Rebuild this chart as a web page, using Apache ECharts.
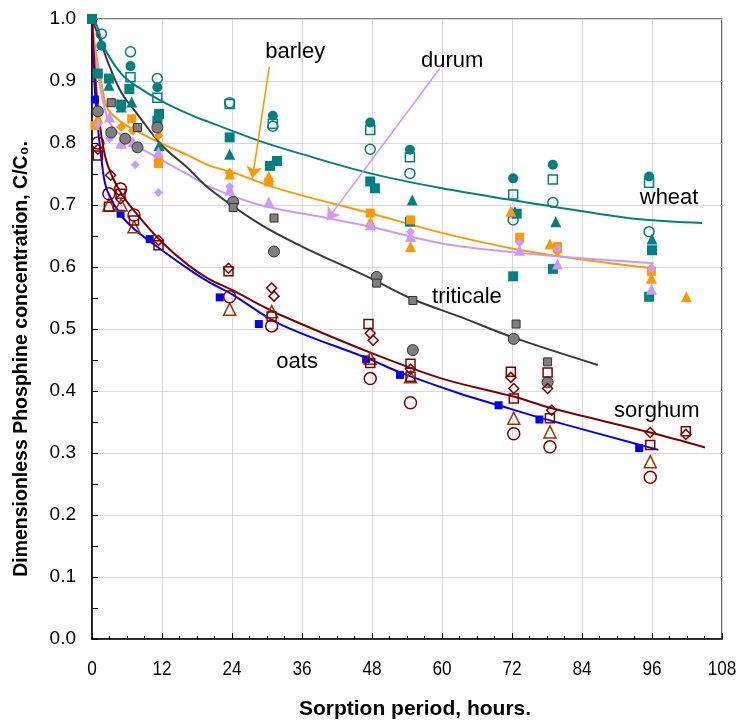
<!DOCTYPE html>
<html>
<head>
<meta charset="utf-8">
<script src="https://cdn.jsdelivr.net/npm/echarts@6/dist/echarts.min.js"></script>
<style>
  html, body { margin: 0; padding: 0; background: #fff; }
  #chart { width: 741px; height: 722px; }
</style>
</head>
<body>
<div id="chart"></div>
<script>
// Axis ticks
const xTicks = [0, 12, 24, 36, 48, 60, 72, 84, 96, 108];
const yTicks = [0, 0.1, 0.2, 0.3, 0.4, 0.5, 0.6, 0.7, 0.8, 0.9, 1.0];

// ---- Measured points [hours, C/C0] ----
// wheat
const wheatCircle = [[0, 1.0], [1.6, 0.957], [6.6, 0.924], [11.2, 0.890], [31.0, 0.844], [47.7, 0.833], [54.5, 0.789], [72.2, 0.743], [79.0, 0.765], [95.5, 0.746]];
const wheatOpenCircle = [[1.6, 0.976], [6.6, 0.947], [11.2, 0.904], [23.6, 0.865], [31.0, 0.827], [47.7, 0.790], [54.5, 0.751], [72.2, 0.676], [79.0, 0.704], [95.5, 0.657]];
const wheatOpenSquare = [[6.6, 0.906], [11.2, 0.873], [23.6, 0.863], [31.0, 0.831], [47.7, 0.821], [54.5, 0.777], [72.2, 0.717], [79.0, 0.741], [95.5, 0.736]];
const wheatTriangle = [[2.9, 0.893], [5.0, 0.858], [6.8, 0.866], [11.5, 0.796], [23.6, 0.782], [54.9, 0.708], [72.5, 0.689], [79.5, 0.673], [96.0, 0.645]];
const wheatSquare = [[0, 1.0], [1.0, 0.912], [2.9, 0.904], [6.4, 0.887], [11.5, 0.847], [23.6, 0.809], [30.5, 0.763], [47.7, 0.738], [54.5, 0.673], [72.2, 0.585], [79.0, 0.597], [95.5, 0.552]];
const wheatSquareB = [[5.0, 0.862], [11.2, 0.836], [31.7, 0.771], [48.5, 0.727], [72.8, 0.686], [96.0, 0.627]];

// barley
const barleyTriangle = [[1.0, 0.840], [5.0, 0.800], [11.4, 0.780], [23.6, 0.750], [30.3, 0.746], [47.7, 0.673], [54.6, 0.633], [71.8, 0.690], [78.5, 0.637], [95.9, 0.582], [101.9, 0.552]];
const barleySquare = [[0.5, 0.828], [6.8, 0.839], [11.4, 0.767], [30.3, 0.737], [47.7, 0.687], [54.6, 0.676], [73.3, 0.648], [79.8, 0.633], [95.9, 0.593]];
const barleyDiamond = [[5.0, 0.826], [7.0, 0.820], [11.4, 0.812], [23.6, 0.752], [73.3, 0.642], [79.8, 0.625], [95.9, 0.598]];

// durum
const durumDiamond = [[1.0, 0.830], [3.0, 0.807], [7.4, 0.765], [11.4, 0.720], [23.6, 0.730], [54.6, 0.657], [73.3, 0.639], [79.8, 0.630], [95.9, 0.597]];
const durumTriangle = [[3.0, 0.842], [5.0, 0.800], [7.0, 0.802], [11.4, 0.785], [23.6, 0.724], [30.3, 0.705], [47.7, 0.668], [54.6, 0.649], [73.3, 0.627], [79.8, 0.605], [95.9, 0.564]];

// triticale
const triticaleCircle = [[1.0, 0.851], [3.3, 0.817], [5.7, 0.807], [7.8, 0.793], [11.2, 0.825], [24.2, 0.705], [31.2, 0.625], [48.8, 0.584], [55.0, 0.466], [72.3, 0.484], [78.1, 0.414]];
const triticaleSquare = [[3.3, 0.865], [7.8, 0.825], [24.2, 0.696], [31.2, 0.679], [48.8, 0.574], [55.0, 0.546], [72.7, 0.508], [78.1, 0.447]];

// oats
const oatsSquare = [[0.5, 0.870], [4.9, 0.686], [9.9, 0.645], [21.9, 0.551], [28.6, 0.508], [47.0, 0.451], [52.8, 0.426], [69.7, 0.377], [76.7, 0.354], [93.8, 0.308]];

// sorghum
const sorghumCircle = [[1.0, 0.800], [2.9, 0.718], [4.9, 0.726], [7.2, 0.684], [23.6, 0.552], [30.8, 0.505], [47.7, 0.420], [54.6, 0.381], [72.3, 0.331], [78.5, 0.310], [95.7, 0.261]];
const sorghumSquare = [[1.0, 0.780], [2.9, 0.697], [4.9, 0.718], [7.2, 0.675], [11.4, 0.635], [23.4, 0.593], [30.8, 0.520], [47.4, 0.508], [47.7, 0.445], [54.6, 0.444], [54.6, 0.423], [71.8, 0.431], [72.3, 0.388], [78.1, 0.430], [78.5, 0.356], [95.7, 0.313], [101.8, 0.335]];
const sorghumDiamond = [[1.0, 0.790], [3.2, 0.748], [4.9, 0.710], [11.4, 0.643], [23.4, 0.598], [30.8, 0.566], [31.2, 0.553], [47.7, 0.493], [48.2, 0.482], [54.6, 0.435], [71.8, 0.422], [72.3, 0.404], [78.1, 0.404], [78.8, 0.369], [95.7, 0.333], [101.8, 0.330]];
const sorghumTriangle = [[2.9, 0.700], [5.0, 0.700], [7.2, 0.665], [23.6, 0.532], [30.8, 0.528], [47.7, 0.453], [54.6, 0.423], [72.3, 0.356], [78.5, 0.334], [95.7, 0.286]];

// ---- Fitted curves [hours, C/C0] ----
const wheatFit = [[0, 1.0], [0.8, 0.99], [2.2, 0.952], [5.0, 0.912], [7.9, 0.890], [12, 0.867], [16.5, 0.847], [20, 0.834], [28.8, 0.803], [36, 0.782], [47.7, 0.751], [60, 0.727], [72, 0.708], [84, 0.690], [94, 0.677], [104.6, 0.671]];
const barleyFit = [[0, 1.0], [0.6, 0.95], [1.9, 0.882], [2.7, 0.855], [5.0, 0.834], [7.9, 0.818], [12, 0.799], [16.5, 0.780], [20, 0.764], [24, 0.753], [32, 0.726], [48, 0.686], [60, 0.655], [72, 0.630], [84, 0.612], [96, 0.598]];
const durumFit = [[0, 1.0], [0.7, 0.93], [2.7, 0.839], [5.0, 0.812], [7.9, 0.794], [12, 0.772], [16.5, 0.749], [20, 0.730], [28.8, 0.700], [40.2, 0.679], [47.7, 0.665], [60, 0.638], [72, 0.624], [84, 0.614], [96.3, 0.606]];
const triticaleFit = [[0, 1.0], [1.6, 0.96], [2.7, 0.931], [5.0, 0.882], [7.9, 0.845], [12, 0.796], [16.5, 0.759], [20, 0.727], [28.8, 0.669], [36, 0.633], [47.7, 0.582], [55, 0.548], [63, 0.520], [72.3, 0.486], [86.7, 0.442]];
const oatsFit = [[0, 1.0], [0.6, 0.87], [1.9, 0.753], [2.7, 0.721], [5.0, 0.683], [7.9, 0.656], [12, 0.627], [16.5, 0.597], [20, 0.576], [24, 0.556], [32.2, 0.508], [47.7, 0.451], [52.8, 0.430], [63, 0.396], [69.7, 0.377], [76.8, 0.357], [94, 0.313], [97.1, 0.305]];
const sorghumFit = [[0, 1.0], [0.7, 0.89], [1.6, 0.812], [2.7, 0.764], [5.0, 0.719], [7.9, 0.683], [12, 0.640], [16.5, 0.603], [20, 0.581], [24, 0.563], [28.8, 0.539], [32.2, 0.523], [47.7, 0.462], [60, 0.420], [72.3, 0.391], [78.5, 0.373], [95.7, 0.333], [105.1, 0.309]];

// ---- Annotations: [label, hours, C/C0] and arrows [from, to] ----
const cropLabels = [['barley', 29.7, 0.947], ['durum', 56.4, 0.933], ['wheat', 93.9, 0.712], ['triticale', 58.3, 0.552], ['oats', 31.6, 0.447], ['sorghum', 89.5, 0.368]];
const barleyArrow = [[30.4, 0.923], [27.5, 0.743]];
const durumArrow = [[59.6, 0.920], [40.3, 0.676]];
const xTitle = 'Sorption period, hours.';
const yTitle = 'Dimensionless Phosphine concentration, C/C\u2080.';

const TEAL = '#008080', ORANGE = '#FF9900', LAVENDER = '#CC99FF', DARK = '#3a3a3a',
      GREY = '#7f7f7f', BLUE = '#0000FF', MAROON = '#800000', RUST = '#993300';

function filled(data, symbol, size, color, border) {
  return {
    type: 'scatter', data, symbol, symbolSize: size, z: 3,
    itemStyle: { color, borderColor: border || color, borderWidth: border ? 1 : 0, opacity: 1 }
  };
}
function open(data, symbol, size, color) {
  return {
    type: 'scatter', data, symbol, symbolSize: size, z: 3,
    itemStyle: { color: 'rgba(255,255,255,0)', borderColor: color, borderWidth: 1.5, opacity: 1 }
  };
}
function fit(data, color) {
  return {
    type: 'line', data, smooth: 0.35, showSymbol: false, z: 2,
    lineStyle: { color, width: 2 }, silent: true
  };
}
function arrow(coords, color) {
  return {
    type: 'lines', coordinateSystem: 'cartesian2d', z: 4, silent: true,
    symbol: ['none', 'arrow'], symbolSize: 12,
    lineStyle: { color, width: 1.6, opacity: 1, curveness: 0 },
    data: [{ coords }]
  };
}

const chart = echarts.init(document.getElementById('chart'), null, { renderer: 'canvas' });
const labelFont = '"Liberation Sans", Arial, sans-serif';

chart.setOption({
  animation: false,
  backgroundColor: '#ffffff',
  grid: { left: 92, right: 19, top: 19, bottom: 83, show: true, borderColor: '#000', borderWidth: 1.2, backgroundColor: 'transparent' },
  xAxis: {
    type: 'value', min: xTicks[0], max: xTicks[xTicks.length - 1], interval: 12,
    axisLine: { lineStyle: { color: '#000', width: 1.5 } },
    axisTick: { inside: true, length: 6, lineStyle: { color: '#000' } },
    minorTick: { show: true, splitNumber: 4, length: 3, lineStyle: { color: '#000' } },
    splitLine: { show: true, lineStyle: { color: '#d9d9d9', width: 1 } },
    axisLabel: { show: false }
  },
  yAxis: {
    type: 'value', min: yTicks[0], max: yTicks[yTicks.length - 1], interval: 0.1,
    axisLine: { lineStyle: { color: '#000', width: 1.5 } },
    axisTick: { inside: true, length: 6, lineStyle: { color: '#000' } },
    minorTick: { show: true, splitNumber: 2, length: 6, lineStyle: { color: '#000' } },
    splitLine: { show: true, lineStyle: { color: '#d9d9d9', width: 1 } },
    axisLabel: { margin: 16, fontFamily: labelFont, fontSize: 19, color: '#000', formatter: v => v.toFixed(1) }
  },
  series: [
    fit(wheatFit, TEAL), fit(barleyFit, ORANGE), fit(durumFit, LAVENDER),
    fit(triticaleFit, DARK), fit(oatsFit, BLUE), fit(sorghumFit, MAROON),

    filled(wheatSquare, 'rect', 10, TEAL), filled(wheatSquareB, 'rect', 10, TEAL),
    filled(wheatTriangle, 'triangle', 11, TEAL), filled(wheatCircle, 'circle', 10, TEAL),
    open(wheatOpenCircle, 'circle', 10, TEAL), open(wheatOpenSquare, 'rect', 9, TEAL),

    filled(barleyTriangle, 'triangle', 11, ORANGE), filled(barleySquare, 'rect', 9, ORANGE),
    filled(barleyDiamond, 'diamond', 10, ORANGE),

    filled(durumDiamond, 'diamond', 9, LAVENDER), filled(durumTriangle, 'triangle', 11, LAVENDER),

    filled(triticaleCircle, 'circle', 11, GREY, '#333'), filled(triticaleSquare, 'rect', 8, GREY, '#333'),

    filled(oatsSquare, 'rect', 8, BLUE),

    open(sorghumTriangle, 'triangle', 12, RUST), open(sorghumCircle, 'circle', 12, MAROON),
    open(sorghumSquare, 'rect', 9, MAROON), open(sorghumDiamond, 'diamond', 10, MAROON),

    arrow(barleyArrow, ORANGE), arrow(durumArrow, LAVENDER)
  ]
});

// Condensed hour labels, axis titles and crop names, placed from the axis scales
const px = (t, v) => chart.convertToPixel({ gridIndex: 0 }, [t, v]);
const hourLabels = xTicks.map(t => {
  const [x, y] = px(t, 0);
  return {
    type: 'text', x, y: y + 30, scaleX: 0.82, z: 10,
    style: { text: String(t), fontFamily: labelFont, fontSize: 21, fill: '#000', textAlign: 'center', textVerticalAlign: 'middle' }
  };
});
const cropNames = cropLabels.map(([text, t, v]) => {
  const [x, y] = px(t, v);
  return {
    type: 'text', x, y, z: 10,
    style: { text, fontFamily: labelFont, fontSize: 22, fill: '#000', textVerticalAlign: 'middle', textAlign: 'left' }
  };
});
const [xMid] = px(54, 0);
const [, yBottom] = px(0, 0);
const [, yMid] = px(0, 0.45);
const titles = [
  { type: 'text', x: xMid + 8, y: yBottom + 70, z: 10,
    style: { text: xTitle, fontFamily: labelFont, fontWeight: 'bold', fontSize: 21, fill: '#000', textAlign: 'center', textVerticalAlign: 'middle' } },
  { type: 'text', x: 22, y: yMid - 1, rotation: Math.PI / 2, z: 10,
    style: { text: yTitle, fontFamily: labelFont, fontWeight: 'bold', fontSize: 19.5, fill: '#000', textAlign: 'center', textVerticalAlign: 'middle' } }
];
chart.setOption({ graphic: hourLabels.concat(cropNames, titles) });
</script>
</body>
</html>
